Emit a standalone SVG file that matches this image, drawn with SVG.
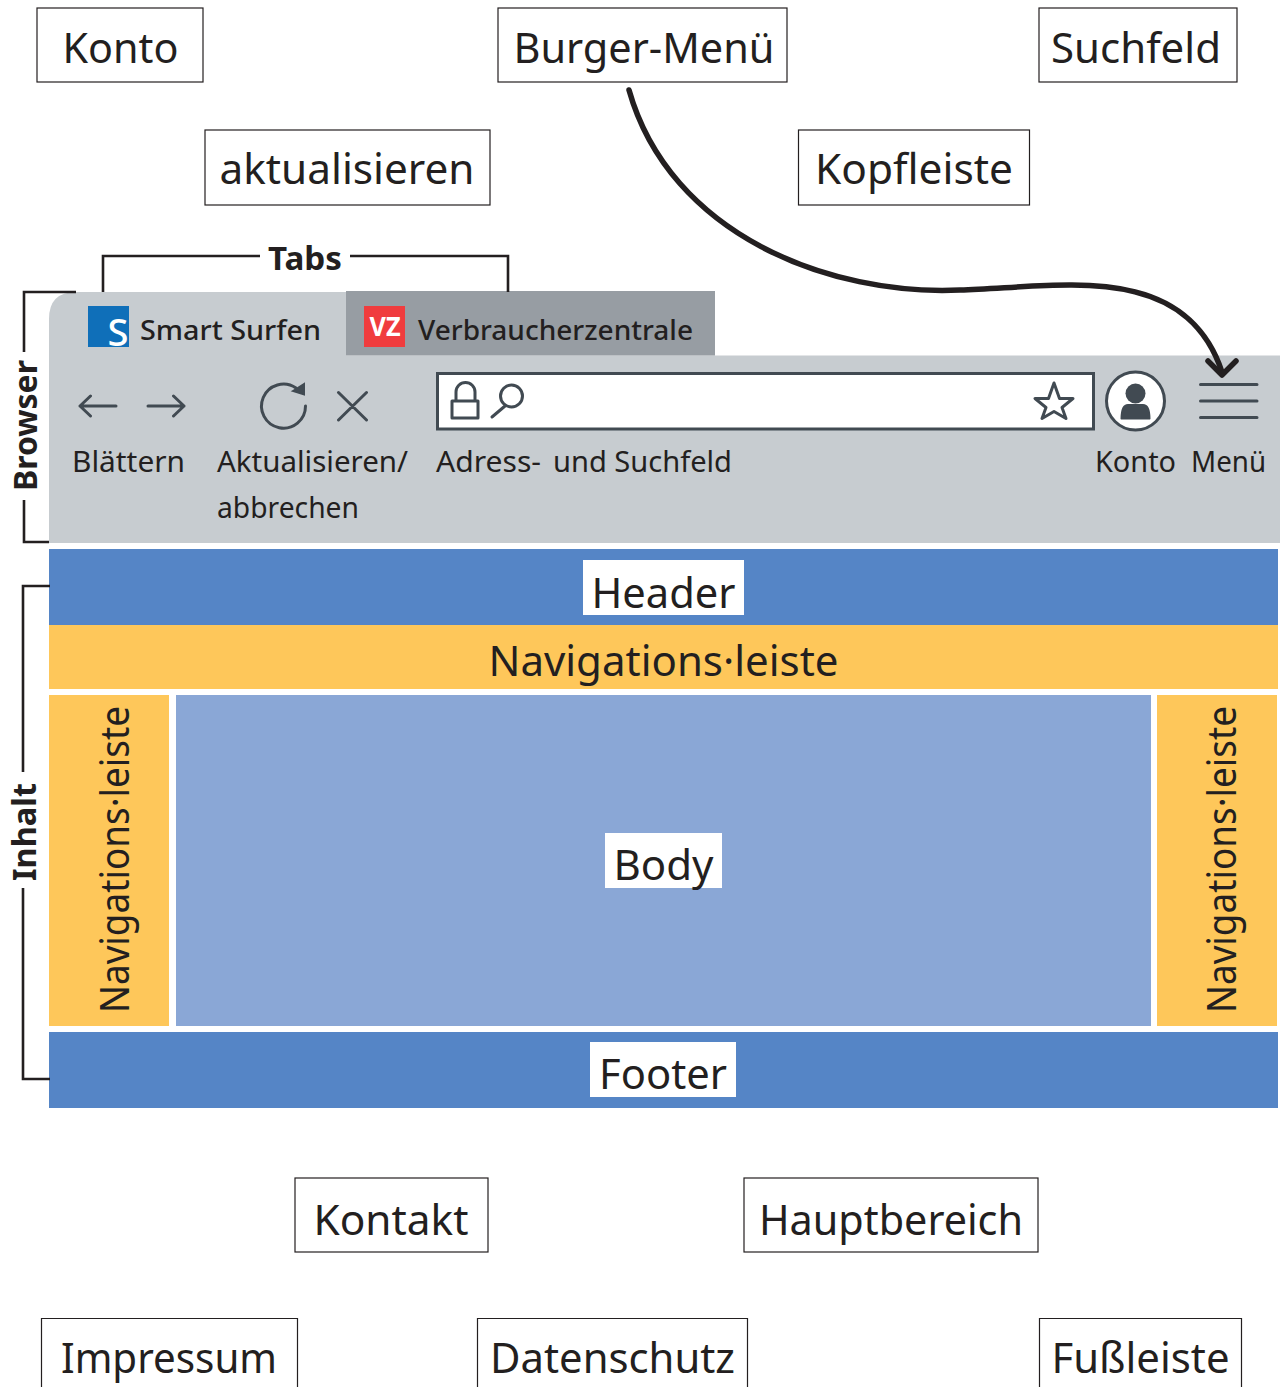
<svg xmlns="http://www.w3.org/2000/svg" width="1280" height="1387" viewBox="0 0 1280 1387">
<style>
text{font-family:"Noto Sans","Open Sans","DejaVu Sans",sans-serif;fill:#231f20}
.l{font-size:42px}
.v{font-size:40px}
.m{font-size:29.500px}
.b{font-size:33px;font-weight:700}
.t{font-size:27px;font-weight:500}
.box{fill:#fff;stroke:#231f20;stroke-width:1.2}
.br{fill:none;stroke:#231f20;stroke-width:2.6}
.ic{fill:none;stroke:#414a52;stroke-width:3;stroke-linecap:round;stroke-linejoin:round}
.c{text-anchor:middle}
</style>
<g id="browser">
<path d="M76 292H346V355.500H1280V543H49V319Q49 292 76 292Z" fill="#c7ccd0"/>
<rect x="346" y="291" width="369" height="64.500" fill="#979da3"/>
<rect x="88" y="306" width="41" height="41" fill="#0f6fb9"/>
<text x="118" y="346" class="c" style="font-size:38px;font-weight:500;fill:#fff" textLength="21" lengthAdjust="spacingAndGlyphs">S</text>
<text x="140" y="340" class="t" textLength="181" lengthAdjust="spacingAndGlyphs">Smart Surfen</text>
<rect x="364" y="306" width="41" height="41" fill="#f03c3e"/>
<text x="385" y="336" class="c" style="font-size:26px;font-weight:700;fill:#fff" textLength="31" lengthAdjust="spacingAndGlyphs">VZ</text>
<text x="418" y="340" class="t" textLength="275" lengthAdjust="spacingAndGlyphs">Verbraucherzentrale</text>
<path class="ic" d="M116 406H80M90.500 396L80 406L90.500 416M148 406H184M173.500 396L184 406L173.500 416M338.500 392.500L366.500 420M366.500 392.500L338.500 420"/>
<path class="ic" d="M296 388A22 22 0 1 0 305.500 406"/>
<path d="M293 391L304 384V394.500Z" fill="#414a52" stroke="#414a52" stroke-width="2"/>
<rect x="437.500" y="373.500" width="656" height="55.500" fill="#fff" stroke="#414a52" stroke-width="3"/>
<rect x="452" y="401" width="26" height="17" class="ic"/>
<path class="ic" d="M456 400V392A9.500 9.500 0 0 1 475 392V400M492 417L505 406"/>
<circle cx="511.500" cy="396" r="11" class="ic"/>
<path class="ic" d="M1054 383L1059.500 398.500H1073L1062 407.500L1066 418.500L1054 411.500L1042 418.500L1046 407.500L1035 398.500H1048.500Z"/>
<circle cx="1135.500" cy="401" r="29" fill="#fff" stroke="#414a52" stroke-width="3"/>
<circle cx="1135.500" cy="393.500" r="10" fill="#414a52"/>
<path d="M1120.500 419Q1120.500 404 1128 404H1143Q1150.500 404 1150.500 419Q1150.500 419.500 1148 419.500H1123Q1120.500 419.500 1120.500 419Z" fill="#414a52"/>
<path class="ic" d="M1200.500 384.500H1257M1200.500 401H1257M1200.500 417.500H1257"/>
<text x="72" y="472" class="m" textLength="113" lengthAdjust="spacingAndGlyphs">Blättern</text>
<text x="217" y="472" class="m" textLength="191" lengthAdjust="spacingAndGlyphs">Aktualisieren/</text>
<text x="217" y="518" class="m" textLength="142" lengthAdjust="spacingAndGlyphs">abbrechen</text>
<text y="472" class="m"><tspan x="436" textLength="105" lengthAdjust="spacingAndGlyphs">Adress-</tspan> <tspan x="553" textLength="179" lengthAdjust="spacingAndGlyphs">und Suchfeld</tspan></text>
<text x="1095" y="472" class="m" textLength="81" lengthAdjust="spacingAndGlyphs">Konto</text>
<text x="1191" y="472" class="m" textLength="75" lengthAdjust="spacingAndGlyphs">Menü</text>
</g>
<g id="content">
<rect x="49" y="549" width="1229" height="76" fill="#5585c6"/>
<rect x="583" y="560" width="161" height="55" fill="#fff"/>
<text x="663.500" y="608" class="l c" textLength="144" lengthAdjust="spacingAndGlyphs">Header</text>
<rect x="49" y="625" width="1229" height="64" fill="#fec75a"/>
<text x="663.500" y="676" class="l c" textLength="350" lengthAdjust="spacingAndGlyphs">Navigations·leiste</text>
<rect x="49" y="695" width="120" height="331" fill="#fec75a"/>
<text transform="translate(129 1013) rotate(-90)" class="v" textLength="307" lengthAdjust="spacingAndGlyphs">Navigations·leiste</text>
<rect x="176" y="695" width="975" height="331" fill="#8aa7d6"/>
<rect x="605" y="833" width="117" height="55" fill="#fff"/>
<text x="663.500" y="880" class="l c" textLength="100" lengthAdjust="spacingAndGlyphs">Body</text>
<rect x="1157" y="695" width="120" height="331" fill="#fec75a"/>
<text transform="translate(1236 1013) rotate(-90)" class="v" textLength="307" lengthAdjust="spacingAndGlyphs">Navigations·leiste</text>
<rect x="49" y="1032" width="1229" height="76" fill="#5585c6"/>
<rect x="590" y="1042" width="146" height="55" fill="#fff"/>
<text x="663" y="1089" class="l c" textLength="128" lengthAdjust="spacingAndGlyphs">Footer</text>
</g>
<g id="connectors">
<path class="br" d="M260 256H103V292M350 256H508V292M76 292H24V352M24 500V542H49M50 586H23V772M23 888V1079H50"/>
<path d="M629 90C670 235 830 296 960 290C1060 287 1185 260 1222 372" fill="none" stroke="#231f20" stroke-width="5.500" stroke-linecap="round"/>
<path d="M1208 361L1222 375L1236 361" fill="none" stroke="#231f20" stroke-width="5.500" stroke-linecap="round" stroke-linejoin="round"/>
</g>
<g id="bracket-labels">
<text x="305" y="270" class="b c" textLength="74" lengthAdjust="spacingAndGlyphs">Tabs</text>
<text transform="translate(37 491) rotate(-90)" class="b" textLength="131" lengthAdjust="spacingAndGlyphs">Browser</text>
<text transform="translate(36 881) rotate(-90)" class="b" textLength="98" lengthAdjust="spacingAndGlyphs">Inhalt</text>
</g>
<g id="node-konto"><rect class="box" x="37" y="8" width="166" height="74"/><text x="120.500" y="63" class="l c" textLength="116" lengthAdjust="spacingAndGlyphs">Konto</text></g>
<g id="node-burger"><rect class="box" x="498" y="8" width="289" height="74"/><text x="644" y="63" class="l c" textLength="261" lengthAdjust="spacingAndGlyphs">Burger-Menü</text></g>
<g id="node-suchfeld"><rect class="box" x="1039" y="8" width="198" height="74"/><text x="1136" y="63" class="l c" textLength="170" lengthAdjust="spacingAndGlyphs">Suchfeld</text></g>
<g id="node-aktualisieren"><rect class="box" x="205" y="130" width="285" height="75"/><text x="347" y="184" class="l c" textLength="255" lengthAdjust="spacingAndGlyphs">aktualisieren</text></g>
<g id="node-kopfleiste"><rect class="box" x="798.500" y="130" width="231" height="75"/><text x="914" y="184" class="l c" textLength="198" lengthAdjust="spacingAndGlyphs">Kopfleiste</text></g>
<g id="node-kontakt"><rect class="box" x="295" y="1178" width="193" height="74"/><text x="391" y="1235" class="l c" textLength="155" lengthAdjust="spacingAndGlyphs">Kontakt</text></g>
<g id="node-hauptbereich"><rect class="box" x="744" y="1178" width="294" height="74"/><text x="891" y="1235" class="l c" textLength="264" lengthAdjust="spacingAndGlyphs">Hauptbereich</text></g>
<g id="node-impressum"><path class="box" d="M41.500 1387V1318.500H297.500V1387"/><text x="169" y="1373" class="l c" textLength="216" lengthAdjust="spacingAndGlyphs">Impressum</text></g>
<g id="node-datenschutz"><path class="box" d="M477.500 1387V1318.500H747.500V1387"/><text x="612.500" y="1373" class="l c" textLength="245" lengthAdjust="spacingAndGlyphs">Datenschutz</text></g>
<g id="node-fussleiste"><path class="box" d="M1039.500 1387V1318.500H1241.500V1387"/><text x="1140.500" y="1373" class="l c" textLength="178" lengthAdjust="spacingAndGlyphs">Fußleiste</text></g>
</svg>
